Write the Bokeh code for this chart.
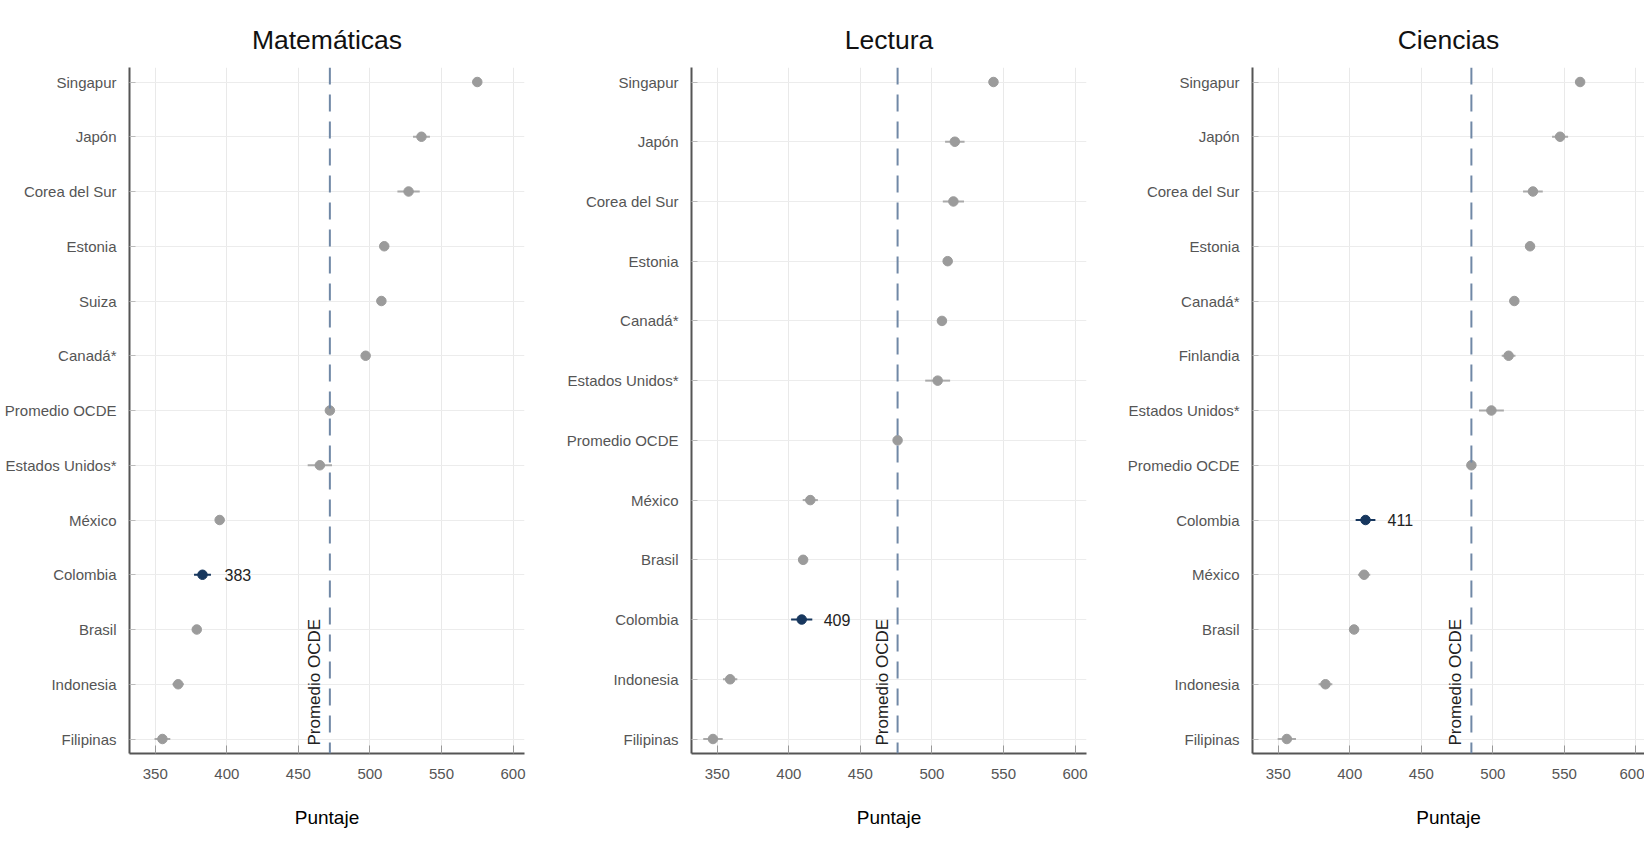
import math as m
from bokeh.plotting import figure
from bokeh.layouts import row
from bokeh.models import Range1d, FixedTicker, Label, Span, ColumnDataSource
from bokeh.embed import file_html
from bokeh.resources import INLINE

# ---------------- data ----------------
mat_paises = ["Singapur", "Japón", "Corea del Sur", "Estonia", "Suiza", "Canadá*",
              "Promedio OCDE", "Estados Unidos*", "México", "Colombia", "Brasil",
              "Indonesia", "Filipinas"]
mat_puntaje = [575, 536, 527, 510, 508, 497, 472, 465, 395, 383, 379, 366, 355]
mat_ic = [2.5, 5.9, 7.8, 3, 3, 2.5, 1, 8.5, 3, 5.9, 3, 4, 5.5]

lec_paises = ["Singapur", "Japón", "Corea del Sur", "Estonia", "Canadá*",
              "Estados Unidos*", "Promedio OCDE", "México", "Brasil", "Colombia",
              "Indonesia", "Filipinas"]
lec_puntaje = [543, 516, 515, 511, 507, 504, 476, 415, 410, 409, 359, 347]
lec_ic = [2.5, 6.8, 7.4, 3, 2.5, 8.7, 1, 5.3, 3, 7.4, 5, 6.8]

cie_paises = ["Singapur", "Japón", "Corea del Sur", "Estonia", "Canadá*", "Finlandia",
              "Estados Unidos*", "Promedio OCDE", "Colombia", "México", "Brasil",
              "Indonesia", "Filipinas"]
cie_puntaje = [561, 547, 528, 526, 515, 511, 499, 485, 411, 410, 403, 383, 356]
cie_ic = [2.5, 5.6, 6.9, 3, 3, 4.8, 8.7, 1, 6.9, 4.3, 3, 4.8, 6.4]

x_ticks = [350, 400, 450, 500, 550, 600]
destacado = "Colombia"
promedio = "Promedio OCDE"

SANS = "'Liberation Sans', Arial, sans-serif"
TICK_SIZE = "15px"

H = 850
TOP = 67
BOTTOM = 97
FRAME_H = H - TOP - BOTTOM


def panel(titulo, paises, puntaje, ic, x0, x1, bl, fw, br):
    n = len(paises)
    pad_px = 14.5
    spacing = (FRAME_H - 2 * pad_px) / (n - 1)
    pad = pad_px / spacing
    ys = [n - 1 - i for i in range(n)]
    colors = ["#17375e" if c == destacado else "#9b9b9b" for c in paises]
    lcolors = ["#17375e" if c == destacado else "#aaaaaa" for c in paises]
    src = ColumnDataSource(dict(
        pais=paises, x=puntaje, y=ys,
        lo=[v - e for v, e in zip(puntaje, ic)],
        hi=[v + e for v, e in zip(puntaje, ic)],
        color=colors, lcolor=lcolors))

    p = figure(width=bl + fw + br, height=H, output_backend="svg", toolbar_location=None,
               x_range=Range1d(x0, x1), y_range=Range1d(-pad, n - 1 + pad),
               min_border_left=bl, min_border_right=br, min_border_top=TOP,
               min_border_bottom=BOTTOM, title=titulo)
    p.outline_line_color = None
    p.background_fill_color = "white"
    p.border_fill_color = "white"

    p.title.align = "center"
    p.title.text_font = SANS
    p.title.text_font_size = "26.5px"
    p.title.text_font_style = "normal"
    p.title.text_color = "#111111"
    p.title.standoff = 25

    # grids
    p.xgrid.ticker = FixedTicker(ticks=x_ticks)
    p.ygrid.ticker = FixedTicker(ticks=list(range(n)))
    p.xgrid.grid_line_color = "#e9e9e9"
    p.ygrid.grid_line_color = "#ececec"

    # x axis
    xa = p.xaxis[0]
    xa.ticker = FixedTicker(ticks=x_ticks)
    xa.axis_line_color = "#555555"
    xa.axis_line_width = 2
    xa.major_tick_in = 8
    xa.major_tick_out = 0
    xa.major_tick_line_color = "#999999"
    xa.minor_tick_line_color = None
    xa.major_label_text_font = SANS
    xa.major_label_text_font_size = TICK_SIZE
    xa.major_label_text_color = "#555555"
    xa.major_label_standoff = 15
    xa.axis_label = "Puntaje"
    xa.axis_label_text_font = SANS
    xa.axis_label_text_font_size = "19px"
    xa.axis_label_text_font_style = "normal"
    xa.axis_label_text_color = "#000000"
    xa.axis_label_standoff = 25

    # y axis
    ya = p.yaxis[0]
    ya.ticker = FixedTicker(ticks=list(range(n)))
    ya.major_label_overrides = {yy: c for yy, c in zip(ys, paises)}
    ya.axis_line_color = "#555555"
    ya.axis_line_width = 2
    ya.major_tick_in = 6
    ya.major_tick_out = 0
    ya.major_tick_line_color = "#bbbbbb"
    ya.minor_tick_line_color = None
    ya.major_label_text_font = SANS
    ya.major_label_text_font_size = TICK_SIZE
    ya.major_label_text_color = "#555555"
    ya.major_label_standoff = 13

    # OECD average line
    ocde = puntaje[paises.index(promedio)]
    p.add_layout(Span(location=ocde, dimension="height", line_color="#7088a6",
                      line_width=2, line_dash="17 10"))
    p.add_layout(Label(x=ocde, y=-pad, x_offset=-6, y_offset=8, angle=m.pi / 2,
                       text="Promedio OCDE", text_font=SANS, text_font_size="17px",
                       text_color="#222222", text_align="left", text_baseline="bottom"))

    # error bars and points
    p.segment(x0="lo", x1="hi", y0="y", y1="y", line_color="lcolor", line_width=2,
              source=src)
    p.scatter(x="x", y="y", size=9.5, fill_color="color", line_color="color", source=src)

    # highlighted value label
    i = paises.index(destacado)
    p.add_layout(Label(x=puntaje[i], y=ys[i], x_offset=22, text=str(puntaje[i]),
                       text_font=SANS, text_font_size="16px", text_color="#222222",
                       text_align="left", text_baseline="middle"))
    return p


p1 = panel("Matemáticas", mat_paises, mat_puntaje, mat_ic, 332, 608, 129, 395, 38)
p2 = panel("Lectura", lec_paises, lec_puntaje, lec_ic, 332, 608, 129, 395, 38)
p3 = panel("Ciencias", cie_paises, cie_puntaje, cie_ic, 332, 606, 128, 392, 0)

layout = row(p1, p2, p3)
open("out.html", "w").write(file_html(layout, INLINE))
